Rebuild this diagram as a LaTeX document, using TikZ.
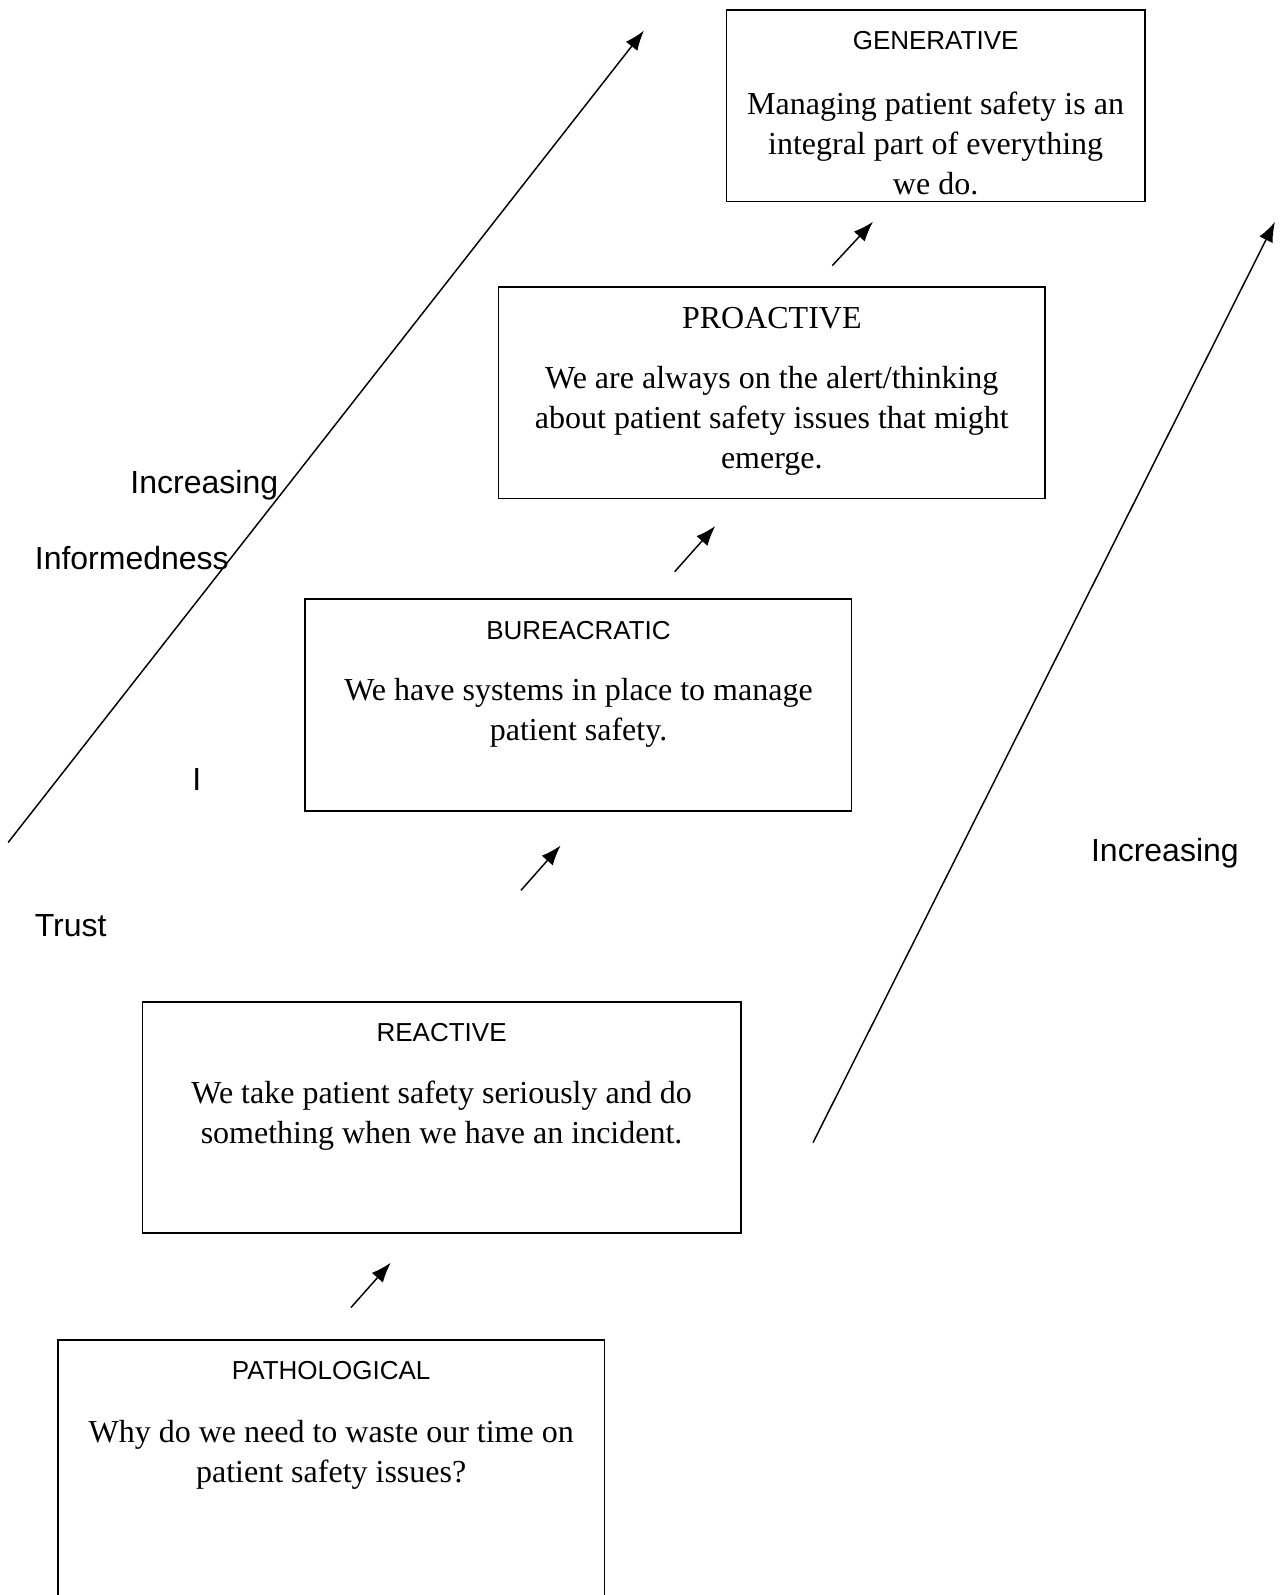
\documentclass[tikz,border=0pt]{standalone}
\usepackage{fontspec}
\setmainfont{Liberation Serif}
\setsansfont{Liberation Sans}
\usetikzlibrary{arrows.meta}
\begin{document}
\begin{tikzpicture}[x=0.75pt,y=-0.75pt,
  stagebox/.style={draw,line width=1.25pt,inner sep=0pt},
  headsans/.style={font=\sffamily\fontsize{19.5}{24}\selectfont},
  headserif/.style={font=\rmfamily\fontsize{24}{29}\selectfont},
  bodytext/.style={font=\rmfamily\fontsize{24}{29.8}\selectfont,align=center,inner sep=0pt},
  axislabel/.style={font=\sffamily\fontsize{24}{28}\selectfont,inner sep=0pt},
  steparrow/.style={line width=1.1pt,-{Latex[length=15pt,width=11pt]}}]
\useasboundingbox (0,0) rectangle (1279,1595);
\begin{scope}
\clip (0,0) rectangle (1279,1595);
% boxes
\draw[stagebox] (726.5,10.2) rectangle (1144.7,201.5);
\node (gen) at (935.6,105.8) {};
\draw[stagebox] (498.6,286.9) rectangle (1045,498.6);
\node (pro) at (771.8,392.7) {};
\draw[stagebox] (305.3,599.3) rectangle (851.6,811);
\node (bur) at (578.5,705.2) {};
\draw[stagebox] (142.5,1002.2) rectangle (740.7,1233.2);
\node (rea) at (441.6,1117.7) {};
\draw[stagebox] (58,1340) rectangle (604.5,1620);
\node (pat) at (331.2,1480) {};
\end{scope}
% headers
\node[headsans] (genh) at (935.6,41) {GENERATIVE};
\node[headserif] (proh) at (771.8,318) {PROACTIVE};
\node[headsans] (burh) at (578.5,630.3) {BUREACRATIC};
\node[headsans] (reah) at (441.6,1032.2) {REACTIVE};
\node[headsans] (path) at (331.2,1371) {PATHOLOGICAL};
% bodies
\node[bodytext] (genb) at (935.6,143.5) {Managing patient safety is an\\integral part of everything\\we do.};
\node[bodytext] (prob) at (771.8,421) {We are always on the alert/thinking\\about patient safety issues that might\\emerge.};
\node[bodytext] (burb) at (578.5,713) {We have systems in place to manage\\patient safety.};
\node[bodytext] (reab) at (441.6,1116) {We take patient safety seriously and do\\something when we have an incident.};
\node[bodytext] (patb) at (331.2,1454.5) {Why do we need to waste our time on\\patient safety issues?};
% small step arrows
\coordinate (a1s) at (832.3,265.6); \coordinate (a1e) at (873,221.8);
\coordinate (a2s) at (674.6,571.8); \coordinate (a2e) at (715.3,526);
\coordinate (a3s) at (521,890.3);   \coordinate (a3e) at (560.6,845.5);
\coordinate (a4s) at (351,1307.5);  \coordinate (a4e) at (390.7,1262.7);
\draw[steparrow] (a1s) -- (a1e);
\draw[steparrow] (a2s) -- (a2e);
\draw[steparrow] (a3s) -- (a3e);
\draw[steparrow] (a4s) -- (a4e);
% long arrows
\coordinate (ls) at (8.1,842.5); \coordinate (le) at (644,30.5);
\coordinate (rs) at (813,1142.7); \coordinate (re) at (1275,221.8);
\draw[steparrow] (ls) -- (le);
\draw[steparrow] (rs) -- (re);
% labels
\node[axislabel,anchor=west] (inc1) at (130.2,485.3) {Increasing};
\node[axislabel,anchor=west] (inf) at (34.6,557.6) {Informedness};
\node[axislabel,anchor=west] (ii) at (192,779.4) {I};
\node[axislabel,anchor=west] (tru) at (34.6,925.4) {Trust};
\node[axislabel,anchor=west] (inc2) at (1090.8,853.6) {Increasing};
\end{tikzpicture}
\end{document}
